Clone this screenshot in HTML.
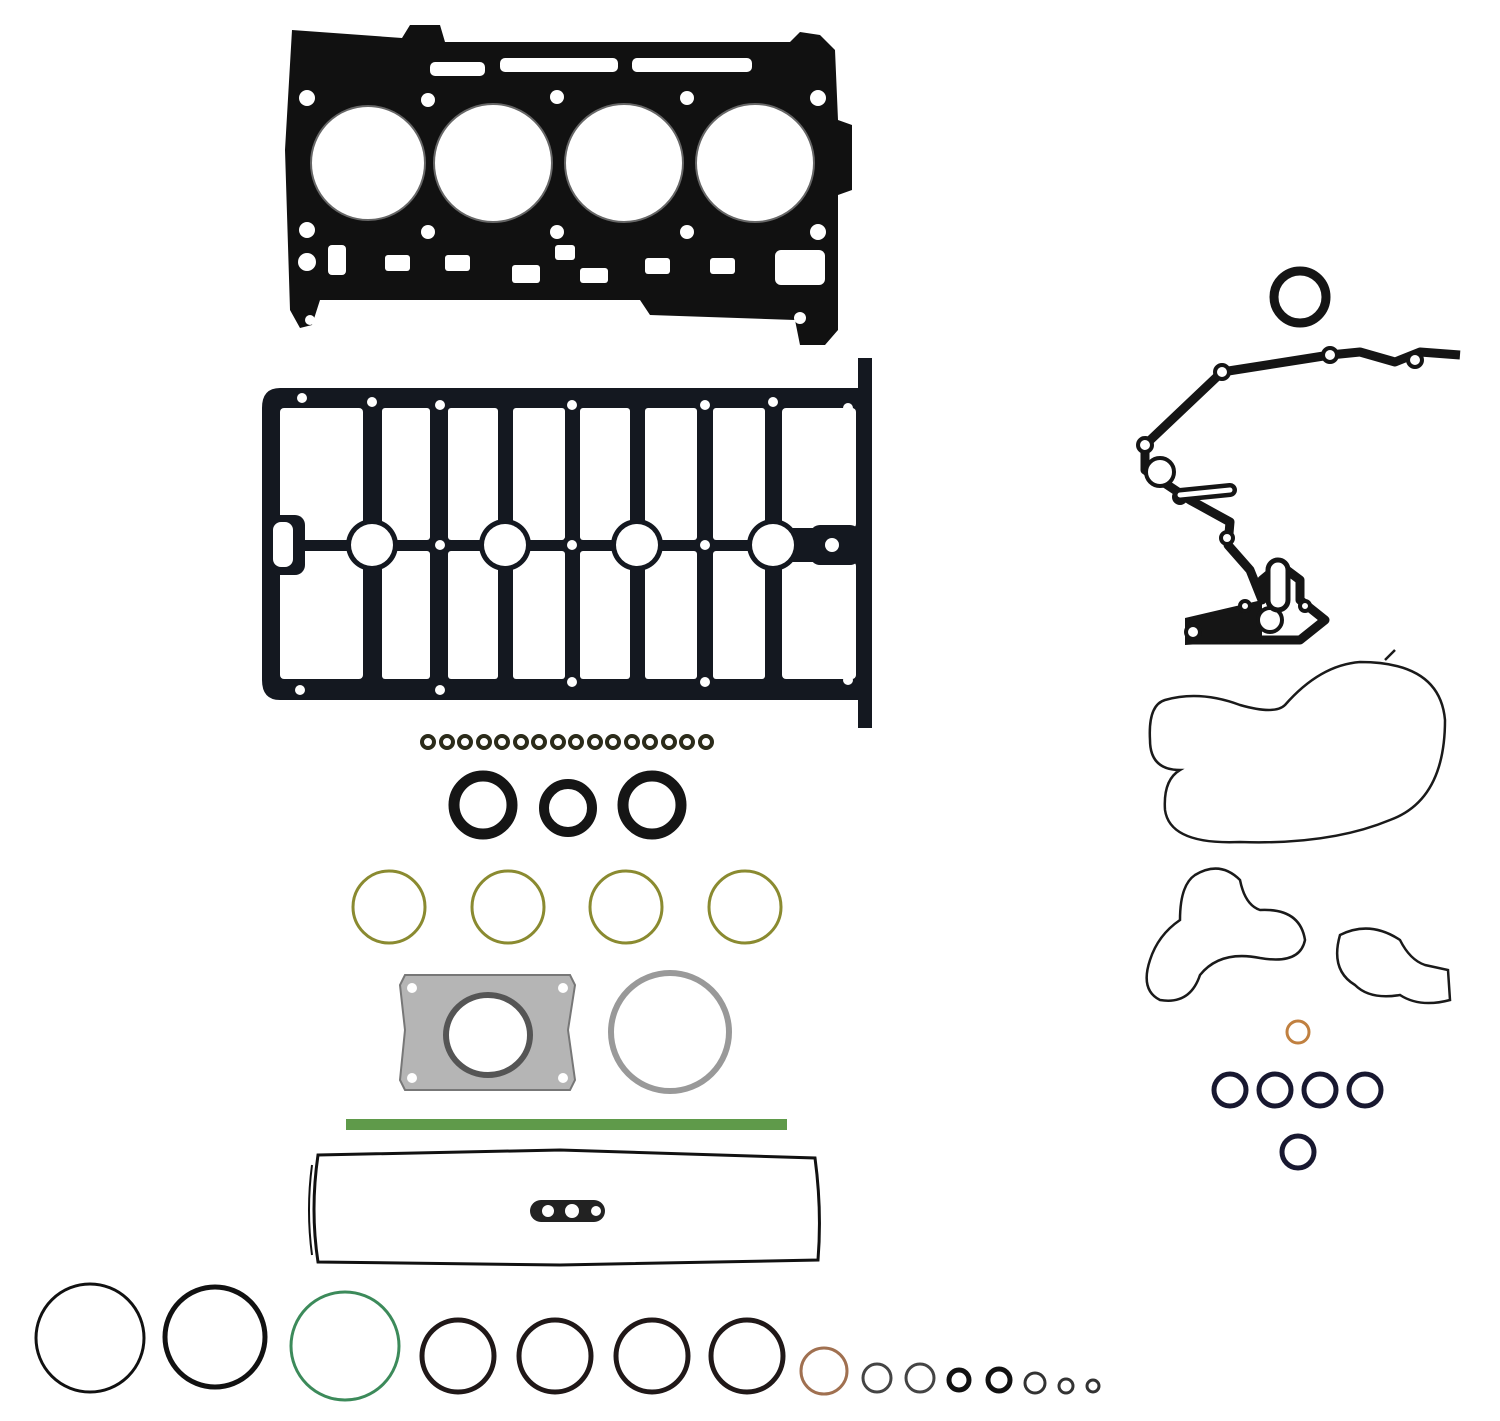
<!DOCTYPE html>
<html><head><meta charset="utf-8"><style>html,body{margin:0;padding:0;background:#fff}svg{display:block}</style></head><body>
<svg width="1500" height="1421" viewBox="0 0 1500 1421" xmlns="http://www.w3.org/2000/svg">
<!-- Head gasket -->
<path d="M292,30 L402,38 L410,25 L440,25 L445,42 L790,42 L800,32 L820,35 L835,50 L838,120 L852,125 L852,190 L838,195 L838,330 L825,345 L800,345 L795,320 L650,315 L640,300 L320,300 L312,325 L300,328 L290,310 L285,150 Z" fill="#111"/>
<g fill="#fff" stroke="#666" stroke-width="2">
<circle cx="368" cy="163" r="57"/><circle cx="493" cy="163" r="59"/><circle cx="624" cy="163" r="59"/><circle cx="755" cy="163" r="59"/>
</g>
<g fill="#fff">
<circle cx="307" cy="98" r="8"/><circle cx="307" cy="230" r="8"/><circle cx="428" cy="100" r="7"/><circle cx="557" cy="97" r="7"/><circle cx="687" cy="98" r="7"/><circle cx="818" cy="98" r="8"/>
<circle cx="428" cy="232" r="7"/><circle cx="557" cy="232" r="7"/><circle cx="687" cy="232" r="7"/><circle cx="818" cy="232" r="8"/>
<circle cx="307" cy="262" r="9"/><circle cx="800" cy="318" r="6"/><circle cx="310" cy="320" r="5"/>
<rect x="385" y="255" width="25" height="16" rx="3"/><rect x="445" y="255" width="25" height="16" rx="3"/><rect x="512" y="265" width="28" height="18" rx="3"/><rect x="555" y="245" width="20" height="15" rx="3"/><rect x="580" y="268" width="28" height="15" rx="3"/><rect x="645" y="258" width="25" height="16" rx="3"/><rect x="710" y="258" width="25" height="16" rx="3"/><rect x="775" y="250" width="50" height="35" rx="6"/>
<rect x="500" y="58" width="118" height="14" rx="5"/><rect x="632" y="58" width="120" height="14" rx="5"/><rect x="430" y="62" width="55" height="14" rx="5"/>
<rect x="328" y="245" width="18" height="30" rx="4"/>
</g>
<!-- Valve cover gasket -->
<path d="M280,388 L858,388 L858,358 L872,358 L872,728 L858,728 L858,700 L280,700 Q262,700 262,680 L262,408 Q262,388 280,388 Z" fill="#141820"/>
<g fill="#fff">
<rect x="280" y="408" width="83" height="132" rx="4"/><rect x="382" y="408" width="48" height="132" rx="3"/><rect x="448" y="408" width="50" height="132" rx="3"/><rect x="513" y="408" width="52" height="132" rx="3"/><rect x="580" y="408" width="50" height="132" rx="3"/><rect x="645" y="408" width="52" height="132" rx="3"/><rect x="713" y="408" width="52" height="132" rx="3"/><rect x="782" y="408" width="74" height="120" rx="4"/>
<rect x="280" y="551" width="83" height="128" rx="4"/><rect x="382" y="551" width="48" height="128" rx="3"/><rect x="448" y="551" width="50" height="128" rx="3"/><rect x="513" y="551" width="52" height="128" rx="3"/><rect x="580" y="551" width="50" height="128" rx="3"/><rect x="645" y="551" width="52" height="128" rx="3"/><rect x="713" y="551" width="52" height="128" rx="3"/><rect x="782" y="562" width="74" height="117" rx="4"/>
</g>
<g fill="#141820"><circle cx="372" cy="545" r="26"/><circle cx="505" cy="545" r="26"/><circle cx="637" cy="545" r="26"/><circle cx="773" cy="545" r="26"/><rect x="262" y="540" width="610" height="11"/><circle cx="440" cy="545" r="10"/><circle cx="572" cy="545" r="10"/><circle cx="705" cy="545" r="10"/><rect x="265" y="515" width="40" height="60" rx="10"/><rect x="810" y="525" width="50" height="40" rx="10"/></g>
<g fill="#fff"><circle cx="372" cy="545" r="21"/><circle cx="505" cy="545" r="21"/><circle cx="637" cy="545" r="21"/><circle cx="773" cy="545" r="21"/><circle cx="832" cy="545" r="7"/><circle cx="440" cy="545" r="5"/><circle cx="572" cy="545" r="5"/><circle cx="705" cy="545" r="5"/><rect x="273" y="522" width="20" height="45" rx="8"/><circle cx="302" cy="398" r="5"/><circle cx="372" cy="402" r="5"/><circle cx="440" cy="405" r="5"/><circle cx="572" cy="405" r="5"/><circle cx="705" cy="405" r="5"/><circle cx="773" cy="402" r="5"/><circle cx="848" cy="408" r="5"/><circle cx="300" cy="690" r="5"/><circle cx="440" cy="690" r="5"/><circle cx="572" cy="682" r="5"/><circle cx="705" cy="682" r="5"/><circle cx="848" cy="680" r="5"/></g>
<!-- small rings -->
<g fill="none" stroke="#2b2b1a" stroke-width="4">
<circle cx="428" cy="742" r="6"/><circle cx="447" cy="742" r="6"/><circle cx="465" cy="742" r="6"/><circle cx="484" cy="742" r="6"/><circle cx="502" cy="742" r="6"/><circle cx="521" cy="742" r="6"/><circle cx="539" cy="742" r="6"/><circle cx="558" cy="742" r="6"/><circle cx="576" cy="742" r="6"/><circle cx="595" cy="742" r="6"/><circle cx="613" cy="742" r="6"/><circle cx="632" cy="742" r="6"/><circle cx="650" cy="742" r="6"/><circle cx="669" cy="742" r="6"/><circle cx="687" cy="742" r="6"/><circle cx="706" cy="742" r="6"/>
</g>
<g fill="none" stroke="#151515"><circle cx="483" cy="805" r="29" stroke-width="11"/><circle cx="568" cy="808" r="24" stroke-width="10"/><circle cx="652" cy="805" r="29" stroke-width="11"/></g>
<g fill="none" stroke="#8a8a30" stroke-width="3"><circle cx="389" cy="907" r="36"/><circle cx="508" cy="907" r="36"/><circle cx="626" cy="907" r="36"/><circle cx="745" cy="907" r="36"/></g>
<!-- metal plate -->
<path d="M405,975 L570,975 L575,985 L568,1030 L575,1080 L570,1090 L405,1090 L400,1080 L405,1030 L400,985 Z" fill="#b5b5b5" stroke="#777" stroke-width="2"/>
<circle cx="412" cy="988" r="5" fill="#fff"/><circle cx="563" cy="988" r="5" fill="#fff"/><circle cx="412" cy="1078" r="5" fill="#fff"/><circle cx="563" cy="1078" r="5" fill="#fff"/>
<ellipse cx="488" cy="1035" rx="42" ry="40" fill="#fff" stroke="#555" stroke-width="6"/>
<circle cx="670" cy="1032" r="59" fill="none" stroke="#999" stroke-width="6"/>
<rect x="346" y="1119" width="441" height="11" fill="#5f9a4a"/>
<!-- long gasket -->
<path d="M318,1155 L560,1150 L815,1158 Q822,1210 818,1260 L560,1265 L318,1262 Q310,1210 318,1155 Z" fill="none" stroke="#111" stroke-width="3"/>
<path d="M312,1165 Q306,1210 312,1255" fill="none" stroke="#111" stroke-width="2"/>
<rect x="530" y="1200" width="75" height="22" rx="11" fill="#222"/><circle cx="548" cy="1211" r="6" fill="#fff"/><circle cx="572" cy="1211" r="7" fill="#fff"/><circle cx="596" cy="1211" r="5" fill="#fff"/>
<!-- bottom rings -->
<g fill="none">
<circle cx="90" cy="1338" r="54" stroke="#111" stroke-width="3"/>
<circle cx="215" cy="1337" r="50" stroke="#111" stroke-width="5"/>
<circle cx="345" cy="1346" r="54" stroke="#3c8a5a" stroke-width="3"/>
<circle cx="458" cy="1356" r="36" stroke="#201818" stroke-width="5"/>
<circle cx="555" cy="1356" r="36" stroke="#201818" stroke-width="5"/>
<circle cx="652" cy="1356" r="36" stroke="#201818" stroke-width="5"/>
<circle cx="747" cy="1356" r="36" stroke="#201818" stroke-width="5"/>
<circle cx="824" cy="1371" r="23" stroke="#a07050" stroke-width="3"/>
<circle cx="877" cy="1378" r="14" stroke="#444" stroke-width="3"/>
<circle cx="920" cy="1378" r="14" stroke="#444" stroke-width="3"/>
<circle cx="959" cy="1380" r="10" stroke="#111" stroke-width="5"/>
<circle cx="999" cy="1380" r="11" stroke="#111" stroke-width="5"/>
<circle cx="1035" cy="1383" r="10" stroke="#333" stroke-width="3"/>
<circle cx="1066" cy="1386" r="7" stroke="#333" stroke-width="3"/>
<circle cx="1093" cy="1386" r="6" stroke="#333" stroke-width="3"/>
</g>
<!-- right side -->
<circle cx="1300" cy="297" r="26" fill="none" stroke="#151515" stroke-width="9"/>
<g fill="none" stroke="#151515" stroke-width="9" stroke-linejoin="round">
<path d="M1145,445 L1222,372 L1330,355 L1360,352 L1395,362 L1420,352 L1460,355"/>
<path d="M1145,445 L1145,470 L1190,500 L1230,522 L1228,545 L1250,570 L1262,600 L1262,580 L1280,565 L1300,580 L1300,600 L1325,620 L1300,640 L1190,640"/>
</g>
<path d="M1185,618 L1262,600 L1262,640 L1185,645 Z" fill="#151515"/>
<g fill="#fff" stroke="#151515" stroke-width="4"><circle cx="1145" cy="445" r="7"/><circle cx="1222" cy="372" r="7"/><circle cx="1330" cy="355" r="7"/><circle cx="1415" cy="360" r="7"/><circle cx="1160" cy="472" r="14"/><circle cx="1180" cy="497" r="6"/><circle cx="1227" cy="538" r="6"/><circle cx="1193" cy="632" r="7"/><circle cx="1270" cy="620" r="12"/><circle cx="1245" cy="606" r="5"/><circle cx="1305" cy="606" r="5"/></g>
<rect x="1268" y="560" width="20" height="50" rx="10" fill="#fff" stroke="#151515" stroke-width="5"/>
<path d="M1180,495 L1230,490" stroke="#151515" stroke-width="14" stroke-linecap="round"/>
<path d="M1180,495 L1230,490" stroke="#fff" stroke-width="5" stroke-linecap="round"/>
<g fill="none" stroke="#1a1a1a" stroke-width="2.5">
<path d="M1165,700 Q1200,690 1240,705 Q1275,715 1285,705 Q1320,665 1360,662 Q1440,662 1445,720 Q1445,800 1390,820 Q1330,845 1240,842 Q1170,845 1165,810 Q1163,780 1180,770 Q1150,770 1150,740 Q1148,705 1165,700 Z"/>
<path d="M1385,660 L1395,650"/>
<path d="M1195,875 Q1220,860 1240,880 Q1245,905 1260,910 Q1300,908 1305,940 Q1300,965 1260,958 Q1220,950 1200,975 Q1190,1005 1160,1000 Q1140,990 1150,960 Q1158,935 1180,920 Q1180,885 1195,875 Z"/>
<path d="M1340,935 Q1370,920 1400,940 Q1410,960 1425,965 L1448,970 L1450,1000 Q1420,1008 1400,995 Q1370,1000 1355,985 Q1330,970 1340,935 Z"/>
</g>
<circle cx="1298" cy="1032" r="11" fill="none" stroke="#c08040" stroke-width="3"/>
<g fill="none" stroke="#181830" stroke-width="5"><circle cx="1230" cy="1090" r="16"/><circle cx="1275" cy="1090" r="16"/><circle cx="1320" cy="1090" r="16"/><circle cx="1365" cy="1090" r="16"/><circle cx="1298" cy="1152" r="16"/></g>
</svg>
</body></html>
